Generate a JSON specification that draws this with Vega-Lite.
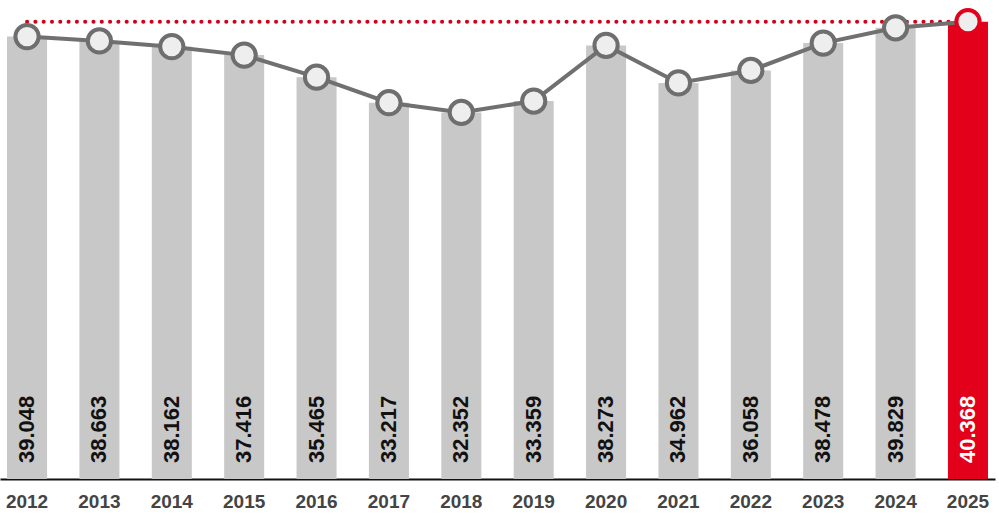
{
  "$schema": "https://vega.github.io/schema/vega-lite/v6.json",
  "width": 995,
  "height": 479,
  "padding": {"left": 0, "top": 0, "right": 4, "bottom": 0},
  "background": "white",
  "config": {"view": {"stroke": null}},
  "data": {"values": [
    {"year": "2012", "value": 39.048},
    {"year": "2013", "value": 38.663},
    {"year": "2014", "value": 38.162},
    {"year": "2015", "value": 37.416},
    {"year": "2016", "value": 35.465},
    {"year": "2017", "value": 33.217},
    {"year": "2018", "value": 32.352},
    {"year": "2019", "value": 33.359},
    {"year": "2020", "value": 38.273},
    {"year": "2021", "value": 34.962},
    {"year": "2022", "value": 36.058},
    {"year": "2023", "value": 38.478},
    {"year": "2024", "value": 39.829},
    {"year": "2025", "value": 40.368}
  ]},
  "encoding": {
    "x": {
      "field": "year", "type": "ordinal",
      "scale": {"paddingInner": 0.447, "paddingOuter": 0.097},
      "axis": {
        "title": null, "labelAngle": 0, "ticks": false,
        "domainColor": "#111111", "domainWidth": 2,
        "labelFont": "Liberation Sans", "labelFontWeight": "bold",
        "labelFontSize": 19, "labelColor": "#444444", "labelPadding": 13
      }
    }
  },
  "layer": [
    {
      "mark": {"type": "bar"},
      "encoding": {
        "y": {"field": "value", "type": "quantitative", "scale": {"domain": [0, 42.28], "nice": false}, "axis": null},
        "color": {"condition": {"test": "datum.year === '2025'", "value": "#e2001a"}, "value": "#c8c8c8"}
      }
    },
    {
      "data": {"values": [{"a": "2012", "b": "2025", "v": 40.368}]},
      "mark": {"type": "rule", "color": "#d0021b", "strokeWidth": 4, "strokeDash": [0.1, 8.2], "strokeCap": "round"},
      "encoding": {
        "x": {"field": "a", "type": "ordinal"},
        "x2": {"field": "b"},
        "y": {"field": "v", "type": "quantitative"}
      }
    },
    {
      "mark": {"type": "line", "color": "#707070", "strokeWidth": 4},
      "encoding": {"y": {"field": "value", "type": "quantitative"}}
    },
    {
      "mark": {"type": "point", "filled": false, "fill": "#eeeeee", "fillOpacity": 1, "size": 540, "strokeWidth": 4, "opacity": 1},
      "encoding": {
        "y": {"field": "value", "type": "quantitative"},
        "stroke": {"condition": {"test": "datum.year === '2025'", "value": "#e2001a"}, "value": "#6e6e6e"}
      }
    },
    {
      "mark": {"type": "text", "angle": 270, "align": "left", "baseline": "middle", "yOffset": -16, "font": "Liberation Sans", "fontWeight": "bold", "fontSize": 22},
      "encoding": {
        "y": {"datum": 0, "type": "quantitative"},
        "text": {"field": "value", "type": "quantitative", "format": ".3f"},
        "color": {"condition": {"test": "datum.year === '2025'", "value": "#ffffff"}, "value": "#111111"}
      }
    }
  ]
}
